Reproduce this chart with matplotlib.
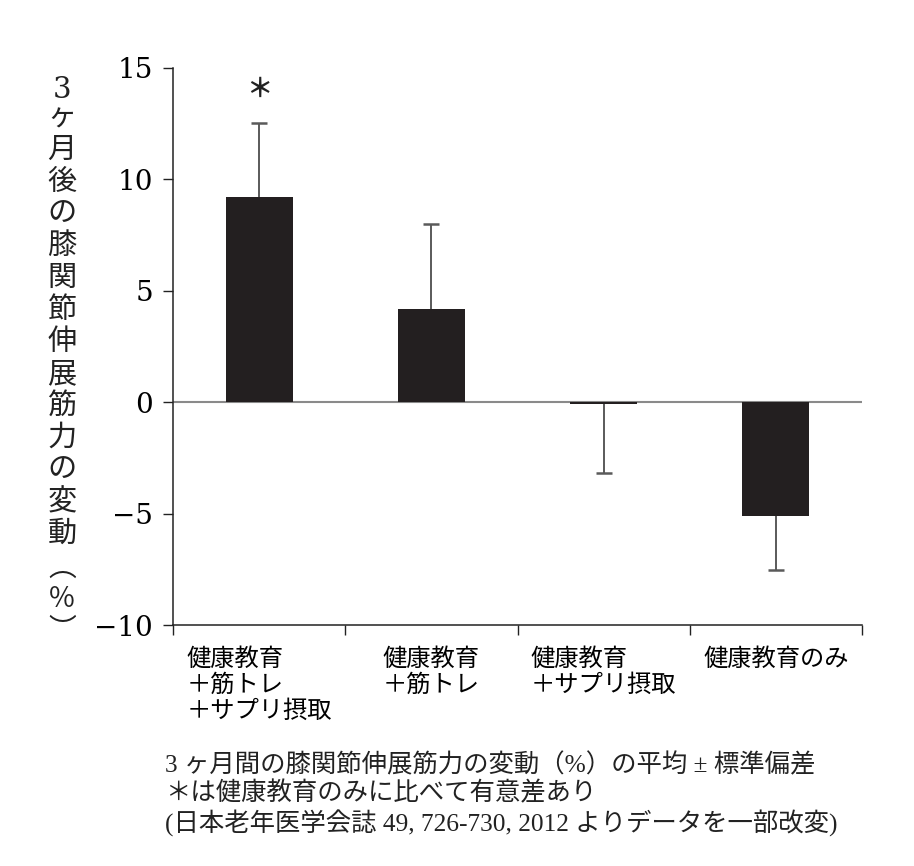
import matplotlib
matplotlib.use('Agg')
import matplotlib.pyplot as plt
import numpy as np

plt.rcParams['font.family'] = ['DejaVu Serif', 'Noto Sans CJK JP']

# データ
groups = ['健康教育\n＋筋トレ\n＋サプリ摂取', '健康教育\n＋筋トレ', '健康教育\n＋サプリ摂取', '健康教育のみ']
means = [9.2, 4.2, -0.1, -5.1]
sds = [3.35, 3.8, 3.1, 2.45]
significant = [True, False, False, False]

ylabel = '3ヶ月後の膝関節伸展筋力の変動'
caption = ['3 ヶ月間の膝関節伸展筋力の変動（%）の平均 ± 標準偏差',
           '＊は健康教育のみに比べて有意差あり',
           '(日本老年医学会誌 49, 726-730, 2012 よりデータを一部改変)']

W, H = 914, 866
fig = plt.figure(figsize=(W / 100, H / 100), dpi=100)
ax = fig.add_axes([173 / W, 1 - 625 / H, (862 - 173) / W, (625 - 68) / H])

x = np.arange(len(means))
means_a = np.array(means)
sds_a = np.array(sds)
sign = np.sign(means_a)

ax.axhline(0, color='#8a8a8a', lw=1.5, zorder=2)
ax.bar(x, means_a, width=0.39, color='#231f20', zorder=4)

# 片側のみの誤差棒
lower = np.where(sign < 0, sds_a, 0)
upper = np.where(sign > 0, sds_a, 0)
ax.errorbar(x, means_a, yerr=[lower, upper], fmt='none', ecolor='#5a5a5a',
            elinewidth=1.4, capsize=0, zorder=3)
ax.plot(x, means_a + sign * sds_a, linestyle='none', marker='_', markersize=11,
        markeredgewidth=1.8, color='#5a5a5a', zorder=3)

for xi, m, s, sig in zip(x, means, sds, significant):
    if sig:
        ax.text(xi, m + s + 1.5, '＊', ha='center', va='center', fontsize=19,
                fontweight='bold', family='Noto Sans CJK JP', color='#222')

ax.set_xlim(-0.5, len(means) - 0.5)
ax.set_ylim(-10, 15)
ax.set_yticks([15, 10, 5, 0, -5, -10])
ax.tick_params(axis='y', direction='out', length=7.5, width=1.0, pad=7,
               labelsize=20, color='#222')

ax.set_xticks(x)
ax.set_xticklabels(groups, family='Noto Sans CJK JP', fontsize=17.5,
                   multialignment='left', linespacing=1.0, va='top')
ax.set_xticks(np.arange(len(means) + 1) - 0.5, minor=True)
ax.tick_params(axis='x', which='major', length=0, pad=15)
ax.tick_params(axis='x', which='minor', direction='out', length=7.5, width=1.0, color='#222')

for side in ['top', 'right']:
    ax.spines[side].set_visible(False)
for side in ['left', 'bottom']:
    ax.spines[side].set_color('#222')
    ax.spines[side].set_linewidth(1.1)

# 縦書きの軸ラベル
label_y = [90, 118] + [150 + 32 * i for i in range(len(ylabel) - 2)]
for ch, yy in zip(ylabel, label_y):
    fig.text(62 / W, 1 - yy / H, ch, ha='center', va='center', fontsize=21,
             color='#222')
for ch, yy in zip(['︵', '％', '︶'], [568, 599, 630]):
    fig.text(62 / W, 1 - yy / H, ch, ha='center', va='center', fontsize=20,
             family='Noto Sans CJK JP', color='#222')

for line, yy in zip(caption, [765, 793, 823]):
    fig.text(165 / W, 1 - yy / H, line, ha='left', va='center', fontsize=18.3,
             family=['Liberation Serif', 'Noto Sans CJK JP'], color='#222')

fig.savefig('out.png', dpi=100, facecolor='white')
